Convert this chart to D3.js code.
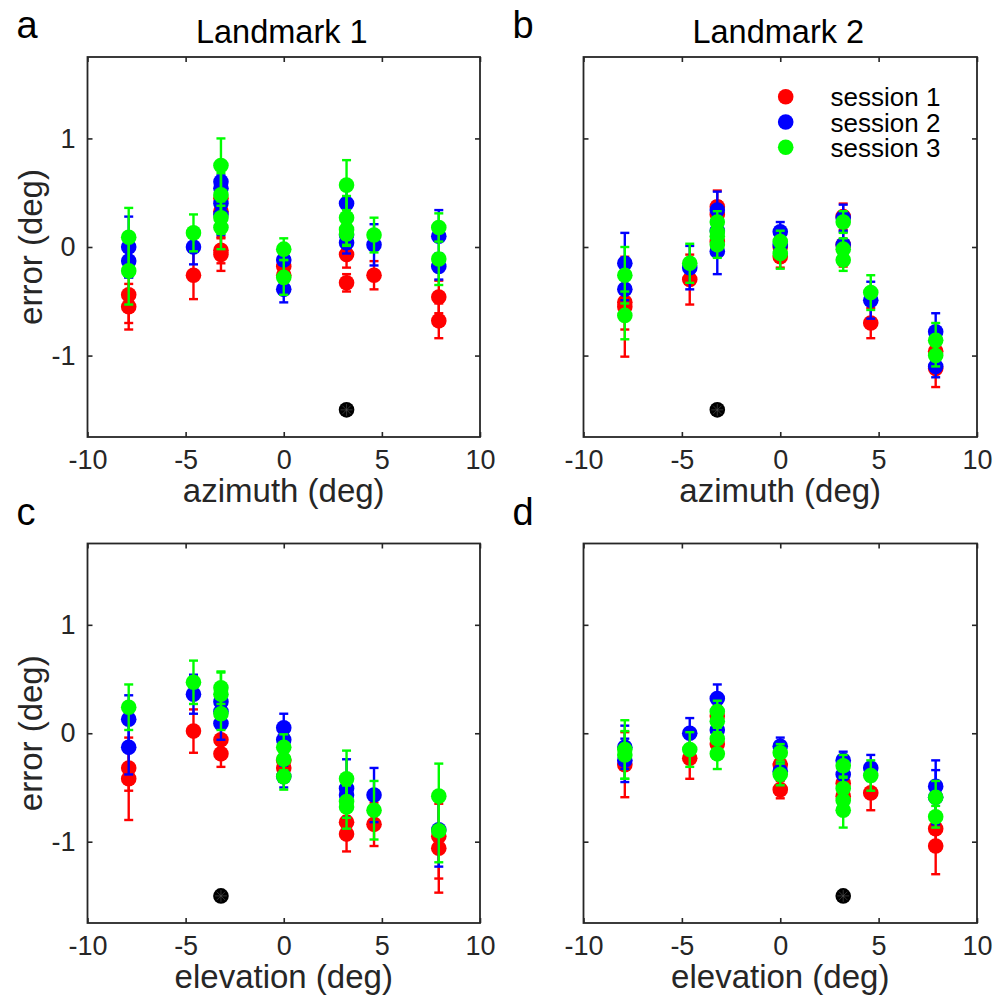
<!DOCTYPE html>
<html>
<head>
<meta charset="utf-8">
<script src="https://cdn.jsdelivr.net/npm/d3@7"></script>
<style>
  html, body { margin: 0; padding: 0; background: #fff; }
  svg { display: block; font-family: "Liberation Sans", Arial, Helvetica, sans-serif; }
</style>
</head>
<body>
<svg id="chart" width="995" height="997"></svg>
<script>
// ---------------- DATA ----------------
const sessionNames = ["session 1", "session 2", "session 3"];
const sessionColors = ["#ff0000", "#0000ff", "#00ff00"];
const xTicks = [-10, -5, 0, 5, 10];
const yTicks = [-1, 0, 1];
const xDomain = [-10, 10];
const yDomain = [-1.75, 1.75];
const panelLetters = ["a", "b", "c", "d"];
const panelTitles = ["Landmark 1", "Landmark 2", "", ""];
const xLabels = ["azimuth (deg)", "azimuth (deg)", "elevation (deg)", "elevation (deg)"];
const yLabel = "error (deg)";
// landmark position [x, y] per panel
const landmarks = [[3.2, -1.5], [-3.2, -1.5], [-3.2, -1.5], [3.2, -1.5]];

// each point: [target position (deg), mean error (deg), error bar half-length (deg)]
// Panel a: Landmark 1, azimuth
const aS1 = [[-7.9,-0.44,0.26],[-7.9,-0.55,0.21],[-4.6,-0.26,0.22],[-3.2,0.45,0.15],[-3.2,0.33,0.12],[-3.2,-0.03,0.12],[-3.2,-0.07,0.15],[0,-0.18,0.1],[0,-0.26,0.1],[3.2,-0.07,0.12],[3.2,-0.33,0.08],[4.6,-0.26,0.13],[7.9,-0.46,0.15],[7.9,-0.68,0.16]];
const aS2 = [[-7.9,0.0,0.28],[-7.9,-0.13,0.15],[-4.6,0.0,0.16],[-3.2,0.60,0.13],[-3.2,0.54,0.12],[-3.2,0.40,0.15],[-3.2,0.30,0.19],[0,-0.12,0.12],[0,-0.39,0.12],[3.2,0.40,0.15],[3.2,0.11,0.12],[3.2,0.04,0.1],[4.6,0.02,0.19],[7.9,0.10,0.24],[7.9,-0.18,0.12]];
const aS3 = [[-7.9,0.09,0.27],[-7.9,-0.22,0.31],[-4.6,0.13,0.17],[-3.2,0.75,0.25],[-3.2,0.48,0.2],[-3.2,0.27,0.15],[-3.2,0.18,0.2],[0,-0.02,0.1],[0,-0.28,0.16],[3.2,0.57,0.23],[3.2,0.27,0.2],[3.2,0.16,0.15],[3.2,0.12,0.1],[4.6,0.11,0.16],[7.9,0.18,0.13],[7.9,-0.11,0.24]];
// Panel b: Landmark 2, azimuth
const bS1 = [[-7.9,-0.51,0.25],[-7.9,-0.55,0.46],[-4.6,-0.30,0.23],[-3.2,0.37,0.15],[-3.2,0.30,0.12],[-3.2,0.05,0.12],[0,0.0,0.1],[0,-0.09,0.1],[3.2,0.28,0.12],[3.2,0.02,0.2],[4.6,-0.70,0.14],[7.9,-0.96,0.15],[7.9,-1.12,0.17]];
const bS2 = [[-7.9,-0.15,0.28],[-7.9,-0.39,0.1],[-4.6,-0.19,0.2],[-3.2,0.34,0.17],[-3.2,0.15,0.12],[-3.2,-0.04,0.21],[0,0.14,0.09],[0,0.02,0.1],[3.2,0.27,0.12],[3.2,0.02,0.12],[4.6,-0.49,0.17],[7.9,-0.78,0.17],[7.9,-1.10,0.1]];
const bS3 = [[-7.9,-0.26,0.26],[-7.9,-0.63,0.22],[-4.6,-0.15,0.18],[-3.2,0.23,0.1],[-3.2,0.14,0.12],[-3.2,0.10,0.1],[-3.2,0.02,0.12],[0,0.05,0.1],[0,-0.06,0.14],[3.2,0.23,0.1],[3.2,-0.02,0.1],[3.2,-0.12,0.1],[4.6,-0.42,0.16],[7.9,-0.86,0.16],[7.9,-1.0,0.1]];
// Panel c: Landmark 1, elevation
const cS1 = [[-7.9,-0.32,0.21],[-7.9,-0.42,0.38],[-4.6,0.02,0.2],[-3.2,-0.06,0.12],[-3.2,-0.19,0.12],[0,-0.32,0.1],[0,-0.25,0.1],[3.2,-0.82,0.12],[3.2,-0.93,0.16],[4.6,-0.84,0.2],[7.9,-0.95,0.39],[7.9,-1.06,0.41]];
const cS2 = [[-7.9,0.13,0.22],[-7.9,-0.13,0.25],[-4.6,0.36,0.18],[-3.2,0.29,0.15],[-3.2,0.20,0.15],[-3.2,0.09,0.15],[0,0.05,0.13],[0,-0.06,0.12],[0,-0.40,0.1],[3.2,-0.51,0.27],[3.2,-0.57,0.15],[4.6,-0.57,0.25],[7.9,-0.89,0.34]];
const cS3 = [[-7.9,0.24,0.21],[-4.6,0.47,0.2],[-3.2,0.42,0.15],[-3.2,0.36,0.2],[-3.2,0.18,0.15],[0,-0.13,0.12],[0,-0.24,0.1],[0,-0.40,0.12],[3.2,-0.42,0.26],[3.2,-0.63,0.15],[3.2,-0.68,0.2],[4.6,-0.71,0.27],[7.9,-0.58,0.3],[7.9,-0.90,0.29]];
// Panel d: Landmark 2, elevation
const dS1 = [[-7.9,-0.29,0.3],[-4.6,-0.23,0.19],[-3.2,0.16,0.1],[-3.2,-0.10,0.1],[0,-0.29,0.1],[0,-0.52,0.08],[3.2,-0.46,0.1],[3.2,-0.58,0.1],[4.6,-0.55,0.16],[7.9,-0.88,0.12],[7.9,-1.04,0.26]];
const dS2 = [[-7.9,-0.13,0.2],[-7.9,-0.25,0.2],[-4.6,0.0,0.14],[-3.2,0.32,0.13],[-3.2,0.03,0.12],[0,-0.12,0.08],[0,-0.35,0.08],[3.2,-0.25,0.08],[3.2,-0.38,0.1],[4.6,-0.32,0.12],[7.9,-0.49,0.24],[7.9,-0.59,0.25]];
const dS3 = [[-7.9,-0.15,0.27],[-7.9,-0.20,0.22],[-4.6,-0.15,0.16],[-3.2,0.20,0.1],[-3.2,0.11,0.1],[-3.2,-0.05,0.1],[-3.2,-0.19,0.14],[0,-0.18,0.08],[0,-0.38,0.1],[3.2,-0.30,0.1],[3.2,-0.51,0.1],[3.2,-0.62,0.1],[3.2,-0.71,0.16],[4.6,-0.39,0.14],[7.9,-0.59,0.15],[7.9,-0.77,0.1]];

const panelData = [[aS1, aS2, aS3], [bS1, bS2, bS3], [cS1, cS2, cS3], [dS1, dS2, dS3]];

// ---------------- LAYOUT ----------------
const svg = d3.select("#chart");
const frameColor = "#262626";
const panelBoxes = [
  {x0: 87.5, x1: 480, y0: 57, y1: 437},
  {x0: 583.5, x1: 977, y0: 57, y1: 437},
  {x0: 87.5, x1: 480, y0: 543.5, y1: 923},
  {x0: 583.5, x1: 977, y0: 543.5, y1: 923}
];
const tickFont = 27, labelFont = 33, titleFont = 32.5, letterFont = 38, legendFont = 26;
const markerR = 7.8, capHalf = 4.5, barWidth = 2.4, tickLen = 5;

panelBoxes.forEach((box, i) => {
  const x = d3.scaleLinear().domain(xDomain).range([box.x0, box.x1]);
  const y = d3.scaleLinear().domain(yDomain).range([box.y1, box.y0]);
  const g = svg.append("g");
  const showY = (i % 2 === 0);

  // axes with inward ticks
  const fmt = d => String(d);
  const xb = g.append("g").attr("transform", `translate(0,${box.y1})`)
    .call(d3.axisBottom(x).tickValues(xTicks).tickSizeInner(-tickLen).tickSizeOuter(0).tickPadding(13).tickFormat(fmt));
  const xt = g.append("g").attr("transform", `translate(0,${box.y0})`)
    .call(d3.axisTop(x).tickValues(xTicks).tickSizeInner(-tickLen).tickSizeOuter(0).tickFormat(""));
  const yl = g.append("g").attr("transform", `translate(${box.x0},0)`)
    .call(d3.axisLeft(y).tickValues(yTicks).tickSizeInner(-tickLen).tickSizeOuter(0).tickPadding(12).tickFormat(showY ? fmt : ""));
  const yr = g.append("g").attr("transform", `translate(${box.x1},0)`)
    .call(d3.axisRight(y).tickValues(yTicks).tickSizeInner(-tickLen).tickSizeOuter(0).tickFormat(""));
  [xb, xt, yl, yr].forEach(ax => {
    ax.select(".domain").remove();
    ax.selectAll(".tick line").attr("stroke", frameColor).attr("stroke-width", 1.6);
    ax.selectAll(".tick text").attr("fill", frameColor).style("font-size", tickFont + "px")
      .style("font-family", '"Liberation Sans", Arial, sans-serif');
  });

  // frame
  g.append("rect").attr("x", box.x0).attr("y", box.y0)
    .attr("width", box.x1 - box.x0).attr("height", box.y1 - box.y0)
    .attr("fill", "none").attr("stroke", frameColor).attr("stroke-width", 1.8);

  // data
  panelData[i].forEach((pts, s) => {
    const col = sessionColors[s];
    const sg = g.append("g");
    pts.forEach(p => {
      const cx = x(p[0]), yt = y(p[1] + p[2]), yb = y(p[1] - p[2]);
      sg.append("line").attr("x1", cx).attr("x2", cx).attr("y1", yt).attr("y2", yb)
        .attr("stroke", col).attr("stroke-width", barWidth);
      [yt, yb].forEach(yy => sg.append("line").attr("x1", cx - capHalf).attr("x2", cx + capHalf)
        .attr("y1", yy).attr("y2", yy).attr("stroke", col).attr("stroke-width", barWidth));
    });
    pts.forEach(p => {
      sg.append("circle").attr("cx", x(p[0])).attr("cy", y(p[1])).attr("r", markerR).attr("fill", col);
    });
  });

  // landmark
  const lm = landmarks[i];
  g.append("circle").attr("cx", x(lm[0])).attr("cy", y(lm[1])).attr("r", 7.8).attr("fill", "#000");
  [0, 45, 90, 135].forEach(a => {
    const r = 6, rad = a * Math.PI / 180;
    g.append("line")
      .attr("x1", x(lm[0]) - r * Math.cos(rad)).attr("x2", x(lm[0]) + r * Math.cos(rad))
      .attr("y1", y(lm[1]) - r * Math.sin(rad)).attr("y2", y(lm[1]) + r * Math.sin(rad))
      .attr("stroke", "#555").attr("stroke-width", 0.6);
  });

  // x label
  g.append("text").attr("x", (box.x0 + box.x1) / 2).attr("y", box.y1 + 65)
    .attr("text-anchor", "middle").style("font-size", labelFont + "px").attr("fill", frameColor)
    .text(xLabels[i]);
  // y label
  if (showY) {
    const cy = (box.y0 + box.y1) / 2;
    g.append("text").attr("transform", `translate(42,${cy}) rotate(-90)`)
      .attr("text-anchor", "middle").style("font-size", labelFont + "px").attr("fill", frameColor)
      .text(yLabel);
  }
  // title
  if (panelTitles[i]) {
    g.append("text").attr("x", (box.x0 + box.x1) / 2 - 2).attr("y", box.y0 - 14)
      .attr("text-anchor", "middle").style("font-size", titleFont + "px").attr("fill", "#000")
      .text(panelTitles[i]);
  }
  // panel letter
  g.append("text").attr("x", box.x0 - 71).attr("y", box.y0 - 19)
    .style("font-size", letterFont + "px").attr("fill", "#000")
    .text(panelLetters[i]);

  // legend in panel b
  if (i === 1) {
    const lg = g.append("g");
    sessionNames.forEach((nm, s) => {
      const ly = 96.7 + s * 25.3;
      lg.append("circle").attr("cx", 785.7).attr("cy", ly).attr("r", 7.8).attr("fill", sessionColors[s]);
      lg.append("text").attr("x", 830.5).attr("y", ly + 9.5)
        .style("font-size", legendFont + "px").attr("fill", "#000").text(nm);
    });
  }
});
</script>
</body>
</html>
